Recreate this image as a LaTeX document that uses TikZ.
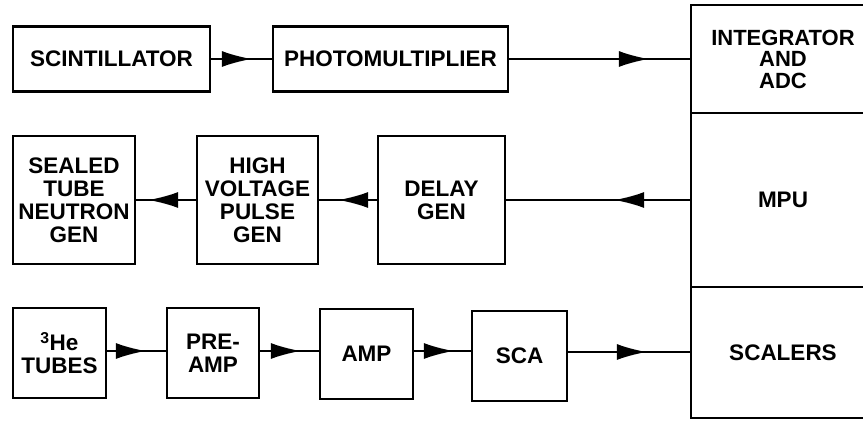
\documentclass[tikz,border=0pt]{standalone}
\usepackage{fontspec}
\setmainfont{Liberation Sans}
\usetikzlibrary{arrows.meta,decorations.markings}
\begin{document}
\begin{tikzpicture}[x=1pt,y=-1pt]
\tikzset{
  blk/.style={draw, line width=2.2pt, inner sep=0pt, align=center,
    font=\fontsize{22.5}{23}\selectfont\bfseries},
  conn/.style={line width=2.2pt},
  tipat/.style={postaction={decorate}, decoration={markings,
    mark=at position -#1 with {\arrow{Latex[length=30pt,width=16pt]}}}}
}
\useasboundingbox (0,0) rectangle (863,422);
\clip (0,0) rectangle (863,422);
% right column
\node[blk, minimum width=184pt, minimum height=108pt, font=\fontsize{22}{21.5}\selectfont\bfseries] (integ) at (783,59) {INTEGRATOR\\AND\\ADC};
\node[blk, minimum width=184pt, minimum height=174pt] (mpu) at (783,200) {MPU};
\node[blk, minimum width=184pt, minimum height=131pt] (scal) at (783,352.5) {SCALERS};
% row 1
\node[blk, minimum width=197pt, minimum height=65pt] (scint) at (111.5,59) {SCINTILLATOR};
\node[blk, minimum width=235pt, minimum height=65pt] (photo) at (390.5,59) {PHOTOMULTIPLIER};
% row 2
\node[blk, minimum width=122pt, minimum height=128pt] (seal) at (74,200) {SEALED\\TUBE\\NEUTRON\\GEN};
\node[blk, minimum width=121pt, minimum height=128pt] (hv) at (257.5,200) {HIGH\\VOLTAGE\\PULSE\\GEN};
\node[blk, minimum width=127pt, minimum height=128pt] (delay) at (441.5,200) {DELAY\\GEN};
% row 3
\node[blk, minimum width=93pt, minimum height=90pt] (he) at (59.5,353) {\textsuperscript{3}He\\TUBES};
\node[blk, minimum width=92pt, minimum height=90pt] (pre) at (213,353) {PRE-\\AMP};
\node[blk, minimum width=93pt, minimum height=90pt] (amp) at (366.5,354) {AMP};
\node[blk, minimum width=95pt, minimum height=90pt] (sca) at (519.5,356) {SCA};
% connectors
\draw[conn, tipat=20pt] (scint.east) -- (photo.west);
\draw[conn, tipat=41pt] (photo.east) -- (photo.east -| integ.west);
\draw[conn, tipat=108pt] (mpu.west) -- (mpu.west -| delay.east);
\draw[conn, tipat=19pt] (delay.west) -- (hv.east);
\draw[conn, tipat=12pt] (hv.west) -- (seal.east);
\draw[conn, tipat=20pt] ([yshift=2pt]he.east) -- ([yshift=2pt]he.east -| pre.west);
\draw[conn, tipat=18pt] ([yshift=2pt]pre.east) -- ([yshift=2pt]pre.east -| amp.west);
\draw[conn, tipat=17pt] ([yshift=3pt]amp.east) -- ([yshift=3pt]amp.east -| sca.west);
\draw[conn, tipat=43pt] ([yshift=4pt]sca.east) -- ([yshift=4pt]sca.east -| scal.west);
\end{tikzpicture}
\end{document}
